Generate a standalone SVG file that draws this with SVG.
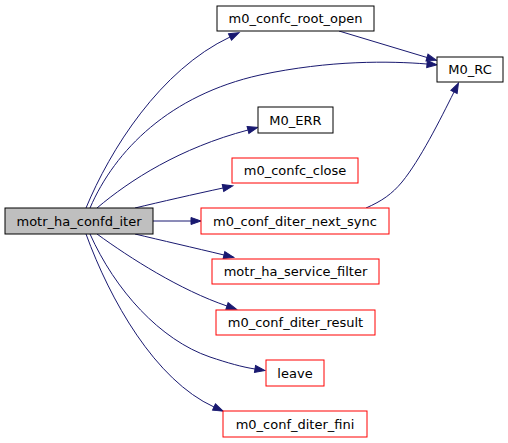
<svg xmlns="http://www.w3.org/2000/svg" width="508" height="443" viewBox="0 0 508 443">
<style>
.n rect{fill:#ffffff;stroke:#000000;stroke-width:1}
.n.r rect{stroke:#ff0000}
.n.m rect{fill:#bfbfbf}
.n text{font-family:"DejaVu Sans","Liberation Sans",sans-serif;font-size:13px;text-anchor:middle;fill:#000000}
.e path{fill:none;stroke:#191970;stroke-width:1;marker-end:url(#a)}
</style>
<defs>
<marker id="a" markerUnits="userSpaceOnUse" markerWidth="11" markerHeight="8" refX="0" refY="3.5" orient="auto" overflow="visible">
<path d="M0,0 L10,3.5 L0,7 Z" fill="#191970" stroke="#191970" stroke-width="1"/>
</marker>
</defs>
<rect width="508" height="443" fill="#ffffff"/>
<g id="edges" class="e">
<path d="M86,208 C110,150 160,70 230,37"/>
<path d="M90,208 C115,150 170,95 260,75 C330,60 390,61 427,64"/>
<path d="M97,208 C130,180 180,148 248,130"/>
<path d="M135,208 C160,202 195,194 223,188"/>
<path d="M153,221 L191,221"/>
<path d="M135,234 C160,240 195,248 224,255"/>
<path d="M97,234 C130,258 180,290 227,306"/>
<path d="M90,234 C115,290 160,340 210,357 C228,363 242,367 255,369"/>
<path d="M86,234 C110,300 155,380 214,407"/>
<path d="M339,31 L427,57.5"/>
<path d="M366,208 C382,201 392,194 402,182 C420,160 440,120 454,92"/>
</g>
<g id="motr_ha_confd_iter" class="n m"><rect x="5" y="208" width="148" height="26"/><text x="79" y="225.5">motr_ha_confd_iter</text></g>
<g id="m0_confc_root_open" class="n"><rect x="217" y="6" width="157" height="25"/><text x="295.5" y="23">m0_confc_root_open</text></g>
<g id="M0_RC" class="n"><rect x="437" y="57" width="66" height="25"/><text x="470" y="74">M0_RC</text></g>
<g id="M0_ERR" class="n"><rect x="258" y="107" width="75" height="26"/><text x="295.5" y="124.5">M0_ERR</text></g>
<g id="m0_confc_close" class="n r"><rect x="232" y="158" width="126" height="25"/><text x="295" y="175">m0_confc_close</text></g>
<g id="m0_conf_diter_next_sync" class="n r"><rect x="201" y="208" width="188" height="26"/><text x="295" y="225.5">m0_conf_diter_next_sync</text></g>
<g id="motr_ha_service_filter" class="n r"><rect x="212" y="259" width="167" height="25"/><text x="295.5" y="276">motr_ha_service_filter</text></g>
<g id="m0_conf_diter_result" class="n r"><rect x="216" y="310" width="159" height="25"/><text x="295.5" y="327">m0_conf_diter_result</text></g>
<g id="leave" class="n r"><rect x="266" y="360" width="58" height="26"/><text x="295" y="377.5">leave</text></g>
<g id="m0_conf_diter_fini" class="n r"><rect x="223" y="411" width="144" height="26"/><text x="295" y="428.5">m0_conf_diter_fini</text></g>
</svg>
